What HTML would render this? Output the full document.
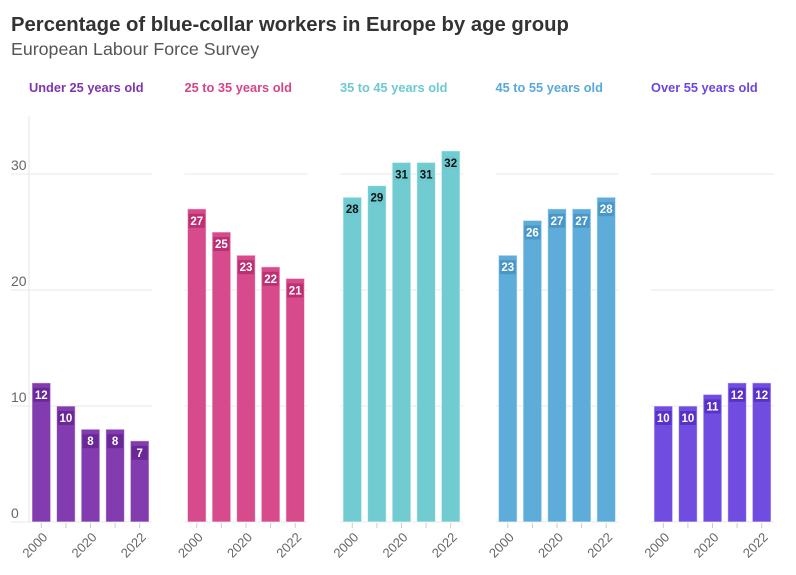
<!DOCTYPE html>
<html><head><meta charset="utf-8">
<style>
body{margin:0;background:#fff;font-family:"Liberation Sans",sans-serif;}
svg{display:block}
</style></head>
<body>
<svg id="chart" width="796" height="575" xmlns="http://www.w3.org/2000/svg">
<text x="11" y="31" font-size="20.3" font-weight="bold" fill="#333">Percentage of blue-collar workers in Europe by age group</text>
<text x="11" y="55" font-size="17.8" fill="#555">European Labour Force Survey</text>
</svg>
<script>
const groups = ["Under 25 years old","25 to 35 years old","35 to 45 years old","45 to 55 years old","Over 55 years old"];
const years = ["2000","2010","2020","2021","2022"];
const shownYears = ["2000","2020","2022"];
const under25 = [12,10,8,8,7];
const age25to35 = [27,25,23,22,21];
const age35to45 = [28,29,31,31,32];
const age45to55 = [23,26,27,27,28];
const over55 = [10,10,11,12,12];
const yTicks = [0,10,20,30];
const series = [under25, age25to35, age35to45, age45to55, over55];
const colors = ["#7f35ad","#d64488","#6ccad0","#58a9d9","#6b46e0"];
const labelBg = ["#6a2896","#bc2f72","#6ccad0","#4a96c6","#5832c6"];
const labelFg = ["#fff","#fff","#111","#fff","#fff"];
const svg = document.getElementById('chart');
const NS = "http://www.w3.org/2000/svg";
const y0 = 522, yTop = 116, pxPerUnit = 11.6;
const panelW = 123, panelStep = 155.5, panelX0 = 29;
function yScale(v){ return y0 - v*pxPerUnit; }
function panelX(i){ return panelX0 + i*panelStep; }
function xScale(i,j){ const band = panelW/years.length; return panelX(i) + j*band + band*0.12; }
const bandW = panelW/years.length, barW = bandW*0.76;
function mk(tag, attrs){ const e=document.createElementNS(NS,tag); for(const k in attrs) e.setAttribute(k,attrs[k]); svg.appendChild(e); return e; }

yTicks.forEach(t=>{
  const tx = mk('text',{x:11,y:yScale(t)-4,'font-size':14,fill:'#666'});
  tx.textContent = t;
  
  
});
const ax = mk('line',{x1:panelX(0),x2:panelX(0),y1:yTop,y2:y0,stroke:'#e4e4e4','stroke-width':1});



groups.forEach((g,i)=>{
  const px = panelX(i);
  const tt = mk('text',{x:px,y:92,'font-size':12.8,'font-weight':'bold',fill:colors[i]});
  tt.textContent = g;
  
  
  yTicks.forEach(t=>{
    const x1 = i===0 ? 11 : px;
    const gl = mk('line',{x1:x1,x2:px+panelW,y1:yScale(t),y2:yScale(t),stroke:'#e8e8e8','stroke-width':1});
    
    
  });
  series[i].forEach((v,j)=>{
    const x = xScale(i,j), y = yScale(v);
    const r = mk('rect',{x:x,y:y,width:barW,height:y0-y,fill:colors[i],'fill-opacity':0.97,stroke:'#fff','stroke-opacity':0.6,'stroke-width':1});
    
    
    const lb = mk('rect',{x:x+barW/2-8,y:y+5,width:16,height:14,fill:labelBg[i]});
    
    
    const lt = mk('text',{x:x+barW/2,y:y+16,'font-size':11.5,'font-weight':'bold',fill:labelFg[i],'text-anchor':'middle'});
    lt.textContent = v;
    
    
  });
  years.forEach((yr,j)=>{
    const cx = xScale(i,j)+barW/2;
    const tk = mk('line',{x1:cx,x2:cx,y1:y0+1,y2:y0+6,stroke:'#ccc'});
    
    
    if(shownYears.includes(yr)){
      const ax2 = cx+7, ay = y0+16;
      const tl = mk('text',{x:ax2,y:ay,'font-size':13,fill:'#666','text-anchor':'end',transform:'rotate(-45 '+ax2+' '+ay+')'});
      tl.textContent = yr;
      
      
    }
  });
});
</script>
</body></html>
